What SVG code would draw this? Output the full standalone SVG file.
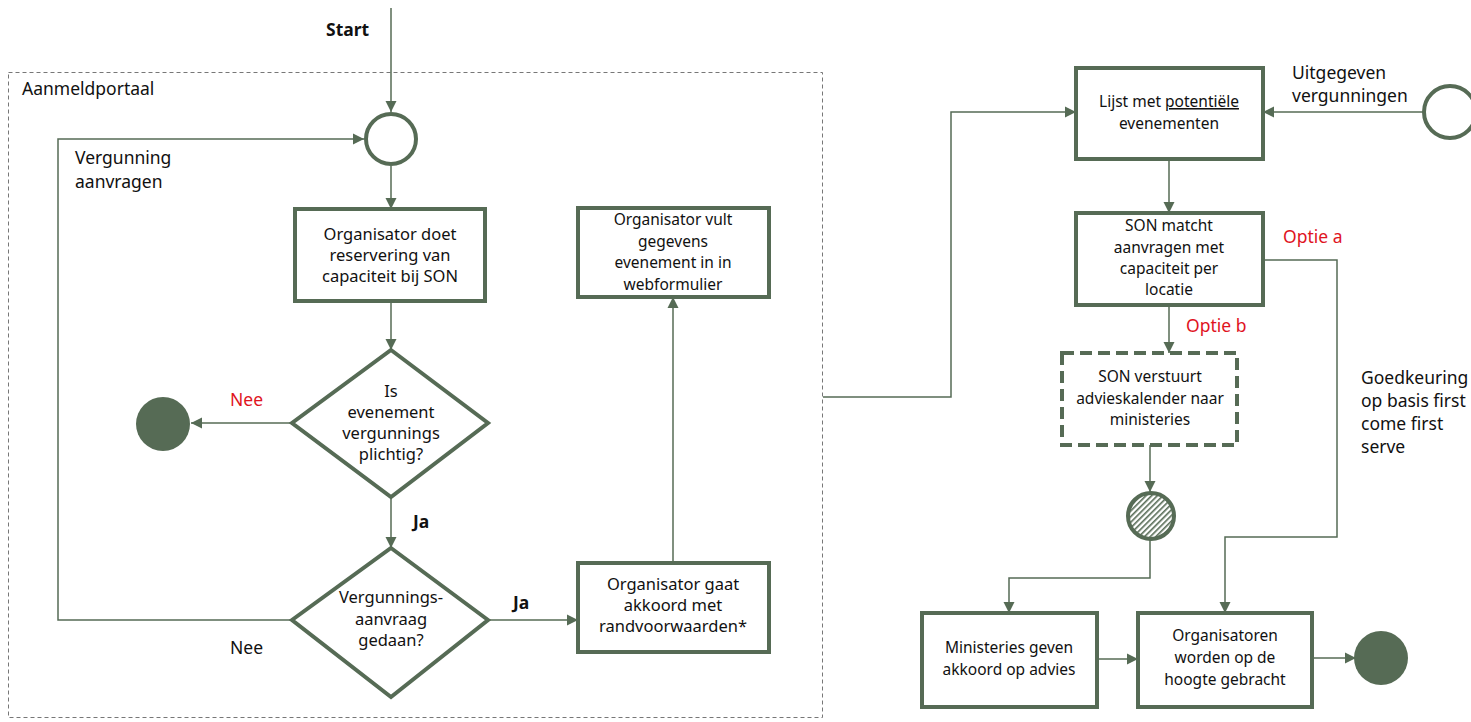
<svg xmlns="http://www.w3.org/2000/svg" width="1471" height="722" viewBox="0 0 1471 722">
<style>
.bg{fill:#ffffff}
.box{fill:#ffffff;stroke:#566b55;stroke-width:4}
.dbox{fill:#ffffff;stroke:#566b55;stroke-width:4;stroke-dasharray:12 6}
.cont{fill:none;stroke:#777;stroke-width:1;stroke-dasharray:4 3}
.ln{fill:none;stroke:#566b55;stroke-width:1.5}
.t{font-family:"Noto Sans","DejaVu Sans",sans-serif;font-size:16.5px;fill:#111;text-anchor:middle}
.tr{font-size:15.5px}
.tc{font-size:15.5px}
.l{font-family:"Noto Sans","DejaVu Sans",sans-serif;font-size:17.5px;fill:#111}
.red{fill:#e0141e}
.b{font-weight:bold}
</style>
<defs>
<marker id="ah" viewBox="0 0 10 10" refX="10" refY="5" markerWidth="11" markerHeight="12" markerUnits="userSpaceOnUse" orient="auto">
<path d="M0,0 L10,5 L0,10 z" fill="#566b55"/>
</marker>
<pattern id="hatch" width="4" height="4" patternUnits="userSpaceOnUse" patternTransform="rotate(45)">
<rect width="4" height="4" fill="#ffffff"/>
<rect width="1.6" height="4" fill="#566b55"/>
</pattern>
</defs>
<rect class="bg" width="1471" height="722"/>
<rect class="cont" x="8.5" y="72.5" width="814" height="645"/>
<text class="l" x="22" y="95">Aanmeldportaal</text>

<g id="connectors">
<line class="ln" x1="391" y1="8" x2="391" y2="112" marker-end="url(#ah)"/>
<line class="ln" x1="391" y1="166" x2="391" y2="209" marker-end="url(#ah)"/>
<line class="ln" x1="391" y1="301" x2="391" y2="350" marker-end="url(#ah)"/>
<line class="ln" x1="292" y1="423" x2="191" y2="423" marker-end="url(#ah)"/>
<line class="ln" x1="391" y1="497" x2="391" y2="548" marker-end="url(#ah)"/>
<polyline class="ln" points="292,620 58,620 58,139 364,139" marker-end="url(#ah)"/>
<line class="ln" x1="488" y1="620" x2="578" y2="620" marker-end="url(#ah)"/>
<line class="ln" x1="673" y1="563" x2="673" y2="297" marker-end="url(#ah)"/>
<polyline class="ln" points="823,397 951,397 951,112 1076,112" marker-end="url(#ah)"/>
<line class="ln" x1="1423" y1="112" x2="1263" y2="112" marker-end="url(#ah)"/>
<line class="ln" x1="1169" y1="159" x2="1169" y2="213" marker-end="url(#ah)"/>
<line class="ln" x1="1169" y1="305" x2="1169" y2="353" marker-end="url(#ah)"/>
<polyline class="ln" points="1263,260 1337,260 1337,537 1225,537 1225,613" marker-end="url(#ah)"/>
<line class="ln" x1="1150" y1="445" x2="1150" y2="492" marker-end="url(#ah)"/>
<polyline class="ln" points="1150,540 1150,578 1009,578 1009,613" marker-end="url(#ah)"/>
<line class="ln" x1="1097" y1="659" x2="1138" y2="659" marker-end="url(#ah)"/>
<line class="ln" x1="1312" y1="658" x2="1356" y2="658" marker-end="url(#ah)"/>
</g>

<g id="labels">
<text class="l b" x="326" y="36">Start</text>
<text class="l" x="75" y="164">Vergunning</text>
<text class="l" x="75" y="188">aanvragen</text>
<text class="l red" x="230" y="406">Nee</text>
<text class="l b" x="413" y="528">Ja</text>
<text class="l" x="230" y="654">Nee</text>
<text class="l b" x="513" y="609">Ja</text>
<text class="l" x="1292" y="79">Uitgegeven</text>
<text class="l" x="1292" y="102">vergunningen</text>
<text class="l red" x="1283" y="243">Optie a</text>
<text class="l red" x="1186" y="332">Optie b</text>
<text class="l" x="1361" y="384">Goedkeuring</text>
<text class="l" x="1361" y="407">op basis first</text>
<text class="l" x="1361" y="430">come first</text>
<text class="l" x="1361" y="453">serve</text>
</g>

<g id="startCircle">
<circle cx="391" cy="139" r="25" fill="#ffffff" stroke="#566b55" stroke-width="4"/>
</g>
<g id="box1">
<rect class="box" x="295" y="209" width="190" height="92"/>
<text class="t" x="390" y="240">Organisator doet</text>
<text class="t" x="390" y="261">reservering van</text>
<text class="t" x="390" y="282">capaciteit bij SON</text>
</g>
<g id="diamond1">
<polygon class="box" points="391,350 488,423 391,497 292,423"/>
<text class="t" x="391" y="397">Is</text>
<text class="t" x="391" y="418">evenement</text>
<text class="t" x="391" y="439">vergunnings</text>
<text class="t" x="391" y="460">plichtig?</text>
</g>
<g id="endCircle1">
<circle cx="163" cy="424" r="27" fill="#566b55"/>
</g>
<g id="diamond2">
<polygon class="box" points="391,548 488,620 391,697 292,620"/>
<text class="t" x="391" y="603">Vergunnings-</text>
<text class="t" x="391" y="625">aanvraag</text>
<text class="t" x="391" y="646">gedaan?</text>
</g>
<g id="box3">
<rect class="box" x="578" y="563" width="191" height="89"/>
<text class="t" x="673" y="590">Organisator gaat</text>
<text class="t" x="673" y="611">akkoord met</text>
<text class="t" x="673" y="632">randvoorwaarden*</text>
</g>
<g id="box2">
<rect class="box" x="578" y="208" width="191" height="89"/>
<text class="t tc" x="673" y="225">Organisator vult</text>
<text class="t tc" x="673" y="246.5">gegevens</text>
<text class="t tc" x="673" y="268">evenement in in</text>
<text class="t tc" x="673" y="289.5">webformulier</text>
</g>
<g id="box4">
<rect class="box" x="1076" y="68" width="187" height="91"/>
<text class="t tr" x="1169" y="107">Lijst met <tspan text-decoration="underline">potentiële</tspan></text>
<text class="t tr" x="1169" y="129">evenementen</text>
</g>
<g id="sourceCircle">
<circle cx="1450" cy="112" r="26" fill="#ffffff" stroke="#566b55" stroke-width="4"/>
</g>
<g id="box5">
<rect class="box" x="1076" y="213" width="187" height="92"/>
<text class="t tr" x="1169" y="231">SON matcht</text>
<text class="t tr" x="1169" y="253">aanvragen met</text>
<text class="t tr" x="1169" y="274">capaciteit per</text>
<text class="t tr" x="1169" y="295">locatie</text>
</g>
<g id="box6">
<rect class="dbox" x="1062" y="353" width="175" height="92"/>
<text class="t tr" x="1150" y="382">SON verstuurt</text>
<text class="t tr" x="1150" y="404">advieskalender naar</text>
<text class="t tr" x="1150" y="425">ministeries</text>
</g>
<g id="hatchCircle">
<circle cx="1151" cy="516" r="23" fill="url(#hatch)" stroke="#566b55" stroke-width="4"/>
</g>
<g id="box8">
<rect class="box" x="922" y="613" width="175" height="94"/>
<text class="t tr" x="1009" y="653">Ministeries geven</text>
<text class="t tr" x="1009" y="675">akkoord op advies</text>
</g>
<g id="box7">
<rect class="box" x="1138" y="613" width="174" height="94"/>
<text class="t tr" x="1225" y="641">Organisatoren</text>
<text class="t tr" x="1225" y="663">worden op de</text>
<text class="t tr" x="1225" y="685">hoogte gebracht</text>
</g>
<g id="endCircle2">
<circle cx="1381" cy="658" r="27" fill="#566b55"/>
</g>
</svg>
